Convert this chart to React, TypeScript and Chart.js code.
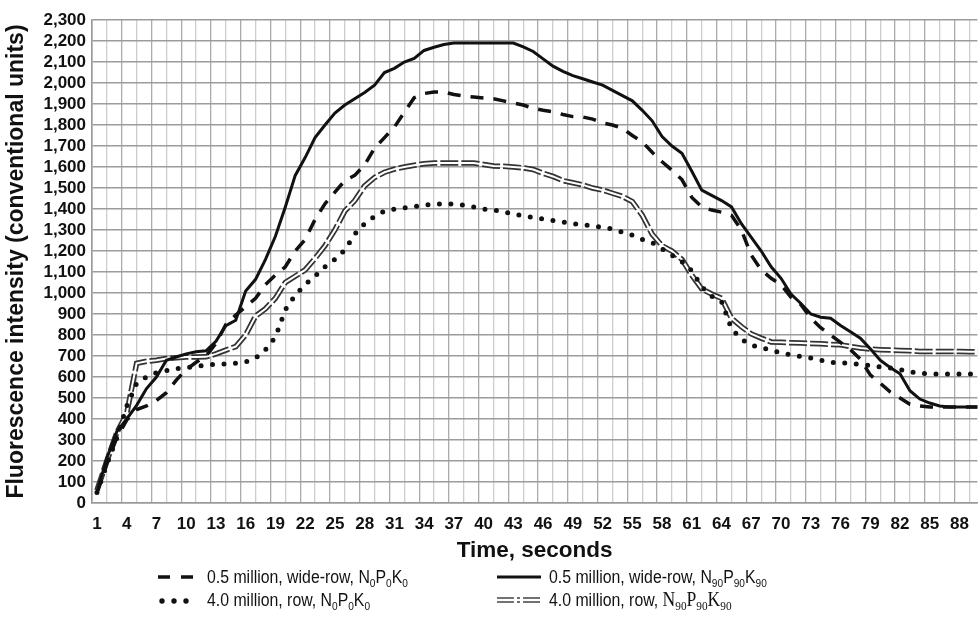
import { useEffect, useRef } from "react";
import { Chart, registerables } from "chart.js";

Chart.register(...registerables);

// ---- data ----
const seconds = [
  1, 2, 3, 4, 5, 6, 7, 8, 9, 10, 11, 12, 13, 14, 15, 16, 17, 18, 19, 20,
  21, 22, 23, 24, 25, 26, 27, 28, 29, 30, 31, 32, 33, 34, 35, 36, 37, 38, 39, 40,
  41, 42, 43, 44, 45, 46, 47, 48, 49, 50, 51, 52, 53, 54, 55, 56, 57, 58, 59, 60,
  61, 62, 63, 64, 65, 66, 67, 68, 69, 70, 71, 72, 73, 74, 75, 76, 77, 78, 79, 80,
  81, 82, 83, 84, 85, 86, 87, 88, 89, 90,
];

const xTickLabels = [1, 4, 7, 10, 13, 16, 19, 22, 25, 28, 31, 34, 37, 40, 43, 46, 49, 52, 55, 58, 61, 64, 67, 70, 73, 76, 79, 82, 85, 88];

const yTickValues = [0, 100, 200, 300, 400, 500, 600, 700, 800, 900, 1000, 1100, 1200, 1300, 1400, 1500, 1600, 1700, 1800, 1900, 2000, 2100, 2200, 2300];

// 0.5 million, wide-row, N0P0K0 (dashed)
const wideRowN0 = [
  50, 190, 310, 395, 445, 462, 488, 525, 585, 635,
  670, 700, 760, 850, 895, 935, 975, 1040, 1085, 1125,
  1200, 1255, 1350, 1425, 1480, 1535, 1560, 1610, 1690, 1740,
  1790, 1860, 1930, 1950, 1957, 1957, 1945, 1938, 1933, 1929,
  1925, 1915, 1905, 1895, 1880, 1870, 1863, 1850, 1840, 1838,
  1828, 1810, 1800, 1785, 1750, 1720, 1670, 1625, 1585, 1540,
  1455, 1410, 1395, 1385, 1370, 1300, 1180, 1110, 1070, 1040,
  980, 945, 880, 835, 800, 765, 730, 685, 610, 571,
  529, 500, 470, 462, 457, 457, 457, 457, 457, 457,
];

// 0.5 million, wide-row, N90P90K90 (solid)
const wideRowN90 = [
  50, 215, 340, 400, 465, 545, 600, 680, 695, 710,
  720, 725, 770, 845, 870, 1010, 1065, 1160, 1270, 1410,
  1560, 1645, 1740, 1800, 1857, 1895, 1925, 1955, 1990, 2050,
  2070, 2100, 2117, 2155, 2170, 2183, 2190, 2190, 2190, 2190,
  2190, 2190, 2190, 2172, 2150, 2115, 2080, 2055, 2035, 2020,
  2005, 1990, 1965, 1940, 1915, 1870, 1820, 1745, 1700, 1665,
  1580, 1490, 1465, 1440, 1410, 1330, 1265, 1200, 1125, 1070,
  995, 950, 900, 885, 880, 845, 815, 785, 735, 680,
  645, 615, 535, 495, 476, 462, 457, 457, 457, 457,
];

// 4.0 million, row, N0P0K0 (dotted)
const rowN0 = [
  50, 185, 310, 460, 570, 600, 620, 630, 640, 645,
  650, 657, 660, 662, 665, 672, 690, 730, 790, 920,
  990, 1040, 1080, 1125, 1160, 1205, 1280, 1330, 1365, 1390,
  1400, 1405, 1412, 1418, 1424, 1424, 1424, 1418, 1410, 1400,
  1395, 1388, 1375, 1368, 1360, 1352, 1345, 1338, 1330, 1325,
  1320, 1312, 1305, 1290, 1275, 1255, 1240, 1210, 1180, 1150,
  1105, 1030, 985, 960, 830, 780, 752, 740, 728, 715,
  705, 697, 690, 680, 670, 667, 665, 660, 655, 648,
  643, 635, 625, 618, 615, 614, 614, 614, 614, 614,
];

// 4.0 million, row, N90P90K90 (double line)
const rowN90 = [
  60, 200, 335, 425, 665, 675, 680, 688, 692, 695,
  695, 696, 710, 728, 745, 800, 890, 925, 975, 1050,
  1080, 1110, 1165, 1225, 1300, 1390, 1440, 1510, 1550, 1575,
  1590, 1600, 1608, 1615, 1619, 1619, 1619, 1619, 1619, 1612,
  1605, 1603, 1600, 1596, 1588, 1570, 1555, 1535, 1525, 1515,
  1500, 1490, 1475, 1460, 1435, 1370, 1280, 1225, 1200, 1160,
  1085, 1020, 995, 975, 880, 840, 805, 785, 767, 765,
  763, 762, 760, 758, 755, 753, 745, 738, 733, 730,
  728, 726, 725, 722, 722, 722, 722, 721, 720, 720,
];

const seriesNames = [
  "0.5 million, wide-row, N₀P₀K₀",
  "0.5 million, wide-row, N₉₀P₉₀K₉₀",
  "4.0 million, row, N₀P₀K₀",
  "4.0 million, row, N₉₀P₉₀K₉₀",
];

// legend text with {subscript} markup
const legendTexts = [
  "0.5 million, wide-row, N{0}P{0}K{0}",
  "0.5 million, wide-row, N{90}P{90}K{90}",
  "4.0 million, row, N{0}P{0}K{0}",
  "4.0 million, row, ",
];
const legendSerifTail = ["", "", "", "N{90}P{90}K{90}"];

const xTitle = "Time, seconds";
const yTitle = "Fluorescence intensity (conventional units)";

const SANS = "'Liberation Sans', Arial, Helvetica, sans-serif";
const SERIF = "'Liberation Serif', 'Times New Roman', serif";

const toPts = (arr: number[]) => seconds.map((s, i) => ({ x: s, y: arr[i] }));

// draws text with {subscript} markup; returns advance width (unscaled units)
function drawRich(ctx: CanvasRenderingContext2D, x: number, y: number, text: string, size: number, family: string) {
  const parts = text.split(/(\{[^}]*\})/).filter((p) => p.length > 0);
  let cx = x;
  for (const p of parts) {
    if (p.startsWith("{")) {
      const t = p.slice(1, -1);
      const s = size * 0.64;
      ctx.font = `${s}px ${family}`;
      ctx.fillText(t, cx, y + size * 0.2);
      cx += ctx.measureText(t).width;
    } else {
      ctx.font = `${size}px ${family}`;
      ctx.fillText(p, cx, y);
      cx += ctx.measureText(p).width;
    }
  }
  return cx;
}

const legendPlugin = {
  id: "customLegend",
  afterDraw(chart: any) {
    const ctx: CanvasRenderingContext2D = chart.ctx;
    ctx.save();
    ctx.fillStyle = "#111";
    ctx.textBaseline = "alphabetic";
    ctx.textAlign = "left";
    const rows = [583, 606];
    const cols = [
      { sx: 158, sw: 35, tx: 207 },
      { sx: 497, sw: 44, tx: 549 },
    ];
    const styles = ["dash", "solid", "dot", "double"];
    const squeeze = 0.88;
    for (let i = 0; i < 4; i++) {
      const col = cols[i % 2];
      const base = rows[Math.floor(i / 2)];
      const my = base - 6;
      const st = styles[i];
      ctx.strokeStyle = "#111";
      ctx.fillStyle = "#111";
      if (st === "dash") {
        ctx.lineWidth = 3.5;
        ctx.setLineDash([12, 11]);
        ctx.beginPath();
        ctx.moveTo(col.sx, my);
        ctx.lineTo(col.sx + col.sw, my);
        ctx.stroke();
      } else if (st === "solid") {
        ctx.lineWidth = 3;
        ctx.setLineDash([]);
        ctx.beginPath();
        ctx.moveTo(col.sx, my);
        ctx.lineTo(col.sx + col.sw, my);
        ctx.stroke();
      } else if (st === "dot") {
        ctx.setLineDash([]);
        for (let k = 0; k < 3; k++) {
          ctx.beginPath();
          ctx.arc(col.sx + 4 + k * 12, my + 1, 2.7, 0, Math.PI * 2);
          ctx.fill();
        }
      } else {
        ctx.lineWidth = 1.5;
        ctx.strokeStyle = "#444";
        ctx.setLineDash([17, 3, 3, 3]);
        for (const dy of [-2, 2]) {
          ctx.beginPath();
          ctx.moveTo(col.sx, my + dy);
          ctx.lineTo(col.sx + col.sw, my + dy);
          ctx.stroke();
        }
      }
      ctx.setLineDash([]);
      ctx.fillStyle = "#111";
      ctx.save();
      ctx.translate(col.tx, base);
      ctx.scale(squeeze, 1);
      const end = drawRich(ctx, 0, 0, legendTexts[i], 18, SANS);
      if (legendSerifTail[i]) drawRich(ctx, end, 0, legendSerifTail[i], 20, SERIF);
      ctx.restore();
    }
    ctx.restore();
  },
};

export default function App() {
  const ref = useRef<HTMLCanvasElement>(null);
  useEffect(() => {
    document.body.style.margin = "0";
    const fmt = (v: number) => String(v).replace(/\B(?=(\d{3})+(?!\d))/g, ",");
    const chart = new Chart(ref.current as HTMLCanvasElement, {
      type: "line",
      data: {
        datasets: [
          {
            label: seriesNames[1],
            data: toPts(wideRowN90),
            borderColor: "#111",
            borderWidth: 3,
            pointRadius: 0,
            tension: 0,
            order: 0,
          },
          {
            label: seriesNames[0],
            data: toPts(wideRowN0),
            borderColor: "#111",
            borderWidth: 3.5,
            borderDash: [13, 10],
            pointRadius: 0,
            tension: 0,
            order: 1,
          },
          {
            label: seriesNames[2],
            data: toPts(rowN0),
            borderColor: "#111",
            borderWidth: 5,
            borderDash: [0, 11.5],
            borderCapStyle: "round",
            pointRadius: 0,
            tension: 0,
            order: 2,
          },
          {
            label: seriesNames[3],
            data: toPts(rowN90),
            borderColor: "#ffffff",
            borderWidth: 2,
            pointRadius: 0,
            tension: 0,
            order: 3,
          },
          {
            label: seriesNames[3] + " (outline)",
            data: toPts(rowN90),
            borderColor: "#333",
            borderWidth: 5.5,
            borderDash: [18, 3],
            pointRadius: 0,
            tension: 0,
            order: 4,
          },
        ] as any,
      },
      options: {
        responsive: false,
        animation: false,
        devicePixelRatio: 1,
        layout: { padding: { top: 20, left: 0, right: 0, bottom: 52 } },
        plugins: {
          legend: { display: false },
          tooltip: { enabled: false },
        },
        scales: {
          x: {
            type: "linear",
            position: "bottom",
            min: 0.5,
            max: 89.8,
            afterBuildTicks: (s: any) => {
              s.ticks = xTickLabels.map((v) => ({ value: v }));
            },
            ticks: {
              autoSkip: false,
              maxRotation: 0,
              padding: 11,
              color: "#111",
              font: { family: SANS, size: 17, weight: "bold" },
              callback: (v: any) => String(v),
            },
            grid: { display: false, drawTicks: false },
            border: { display: true, color: "#9a9a9a", width: 1.6 },
            title: {
              display: true,
              text: xTitle,
              color: "#111",
              font: { family: SANS, size: 22.5, weight: "bold" },
              padding: { top: 0, bottom: 4 },
            },
            afterFit: (s: any) => {
              s.height = 65;
            },
          },
          xg: {
            type: "linear",
            position: "top",
            min: 0.5,
            max: 89.8,
            afterBuildTicks: (s: any) => {
              const t = [];
              for (let v = 0.5; v <= 89.8 + 1e-6; v += 1.5) t.push({ value: v });
              s.ticks = t;
            },
            ticks: { display: false },
            grid: {
              drawTicks: false,
              lineWidth: 1.3,
              color: (c: any) => {
                const k = Math.round((c.tick.value - 0.5) / 1.5);
                return k % 2 === 0 ? "#ababab" : "#cdcdcd";
              },
            },
            border: { display: false },
            afterFit: (s: any) => {
              s.height = 0;
            },
          },
          y: {
            type: "linear",
            min: 0,
            max: 2300,
            afterBuildTicks: (s: any) => {
              s.ticks = yTickValues.map((v) => ({ value: v }));
            },
            ticks: {
              autoSkip: false,
              padding: 6,
              color: "#111",
              font: { family: SANS, size: 17, weight: "bold" },
              callback: (v: any) => fmt(v),
            },
            grid: { color: "#9c9c9c", lineWidth: 1.6, drawTicks: false },
            border: { display: true, color: "#9a9a9a", width: 1.6 },
            title: {
              display: true,
              text: yTitle,
              color: "#111",
              font: { family: SANS, size: 23, weight: "bold" },
              padding: { top: 3, bottom: 0 },
            },
            afterFit: (s: any) => {
              s.width = 92;
            },
          },
        } as any,
      },
      plugins: [legendPlugin],
    });
    return () => chart.destroy();
  }, []);
  return <canvas ref={ref} width={980} height={620} style={{ display: "block", width: 980, height: 620 }} />;
}
